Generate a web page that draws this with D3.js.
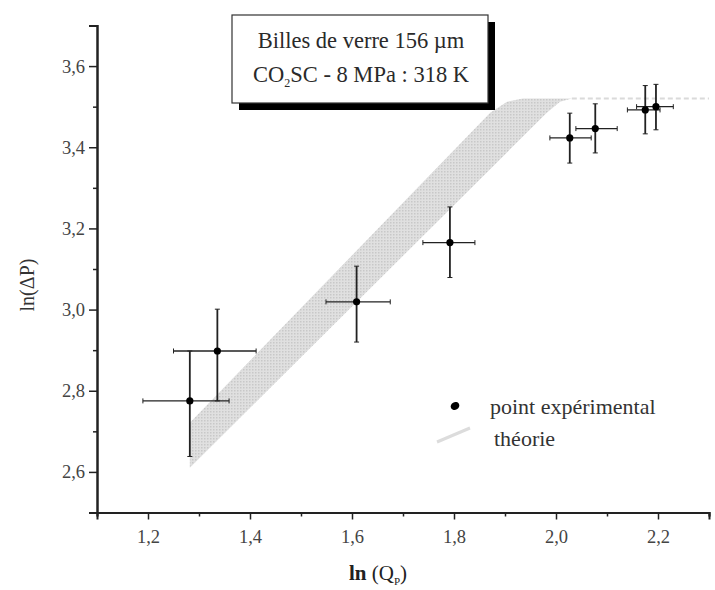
<!DOCTYPE html>
<html>
<head>
<meta charset="utf-8">
<script src="https://cdn.jsdelivr.net/npm/d3@7"></script>
<style>
  html, body { margin: 0; padding: 0; background: #fff; }
  svg { display: block; }
</style>
</head>
<body>
<svg id="chart" width="715" height="590"></svg>
<script>
// ---- data ----
const xVals   = [1.282, 1.336, 1.609, 1.792, 2.027, 2.077, 2.175, 2.196];
const yVals   = [2.775, 2.898, 3.019, 3.165, 3.423, 3.446, 3.492, 3.500];
const xErrLo  = [0.092, 0.086, 0.060, 0.053, 0.039, 0.038, 0.035, 0.038];
const xErrHi  = [0.077, 0.076, 0.066, 0.049, 0.042, 0.043, 0.029, 0.034];
const yErrHi  = [0.123, 0.103, 0.088, 0.088, 0.061, 0.061, 0.060, 0.055];
const yErrLo  = [0.137, 0.123, 0.099, 0.086, 0.062, 0.060, 0.059, 0.057];

// theory band: upper (left) boundary and lower (right) boundary
const bandUpperX = [1.282, 1.871, 1.904, 1.935];
const bandUpperY = [2.721, 3.485, 3.512, 3.520];
const bandLowerX = [1.282, 1.982, 2.008, 2.031];
const bandLowerY = [2.610, 3.485, 3.512, 3.520];
const plateauX = [2.031, 2.30];
const plateauY = [3.52, 3.52];

const xTicks = [1.2, 1.4, 1.6, 1.8, 2.0, 2.2];
const xMinor = [1.1, 1.3, 1.5, 1.7, 1.9, 2.1, 2.3];
const yTicks = [2.6, 2.8, 3.0, 3.2, 3.4, 3.6];
const yMinor = [2.5, 2.7, 2.9, 3.1, 3.3, 3.5, 3.7];

const titleLines = ["Billes de verre 156 µm", "CO|2|SC - 8 MPa : 318 K"];
const legendLabels = ["point expérimental", "théorie"];

// ---- drawing ----
const svg = d3.select("#chart");
const font = "'Liberation Serif', 'Times New Roman', Times, serif";
const ink = "#222";

const x = d3.scaleLinear().domain([1.1, 2.3]).range([97, 709]);
const y = d3.scaleLinear().domain([2.5, 3.7]).range([512.5, 25.5]);
const fmt = d => d3.format(".1f")(d).replace(".", ",");

// theory band
const upper = bandUpperX.map((v, i) => [x(v), y(bandUpperY[i])]);
const lower = bandLowerX.map((v, i) => [x(v), y(bandLowerY[i])]);
const poly = upper.concat(lower.slice().reverse());
const defs = svg.append("defs");
const pat = defs.append("pattern").attr("id", "stip").attr("width", 3).attr("height", 3)
  .attr("patternUnits", "userSpaceOnUse");
pat.append("rect").attr("width", 3).attr("height", 3).attr("fill", "#e0e0e0");
pat.append("rect").attr("width", 1.5).attr("height", 1.5).attr("fill", "#c8c8c8");
svg.append("path")
  .attr("d", d3.line()(poly) + "Z")
  .attr("fill", "url(#stip)")
  .attr("stroke", "none");
svg.append("path")
  .attr("d", d3.line()(plateauX.map((v, i) => [x(v), y(plateauY[i])])))
  .attr("stroke", "#dadada").attr("stroke-width", 2).attr("stroke-dasharray", "5,3")
  .attr("fill", "none");

// axes
const gx = svg.append("g").attr("transform", `translate(0,${y(2.5)})`)
  .call(d3.axisBottom(x).tickValues(xTicks).tickFormat(fmt).tickSizeOuter(0).tickSize(7).tickPadding(10));
const gxm = svg.append("g").attr("transform", `translate(0,${y(2.5)})`)
  .call(d3.axisBottom(x).tickValues(xMinor).tickFormat("").tickSizeOuter(0).tickSize(4));
const gy = svg.append("g").attr("transform", `translate(${x(1.1)},0)`)
  .call(d3.axisLeft(y).tickValues(yTicks).tickFormat(fmt).tickSizeOuter(0).tickSize(8).tickPadding(4));
const gym = svg.append("g").attr("transform", `translate(${x(1.1)},0)`)
  .call(d3.axisLeft(y).tickValues(yMinor).tickFormat("").tickSizeOuter(0).tickSize(4));
[gx, gxm, gy, gym].forEach(g => {
  g.select(".domain").attr("stroke", ink).attr("stroke-width", 2);
  g.selectAll(".tick line").attr("stroke", ink).attr("stroke-width", 1.5);
  g.selectAll("text").attr("font-family", font).attr("font-size", 18.5).attr("fill", "#444");
});

// error bars
const cap = 2.5;
const eb = svg.append("g").attr("stroke", ink).attr("stroke-width", 1.6).attr("fill", "none");
xVals.forEach((xv, i) => {
  const cx = x(xv), cy = y(yVals[i]);
  const x0 = x(xv - xErrLo[i]), x1 = x(xv + xErrHi[i]);
  const y0 = y(yVals[i] + yErrHi[i]), y1 = y(yVals[i] - yErrLo[i]);
  eb.append("line").attr("x1", x0).attr("x2", x1).attr("y1", cy).attr("y2", cy).attr("stroke-width", 1.3);
  eb.append("line").attr("x1", cx).attr("x2", cx).attr("y1", y0).attr("y2", y1).attr("stroke-width", 1.8);
  eb.append("line").attr("x1", x0).attr("x2", x0).attr("y1", cy - cap).attr("y2", cy + cap).attr("stroke-width", 1);
  eb.append("line").attr("x1", x1).attr("x2", x1).attr("y1", cy - cap).attr("y2", cy + cap).attr("stroke-width", 1);
  eb.append("line").attr("x1", cx - cap).attr("x2", cx + cap).attr("y1", y0).attr("y2", y0).attr("stroke-width", 1);
  eb.append("line").attr("x1", cx - cap).attr("x2", cx + cap).attr("y1", y1).attr("y2", y1).attr("stroke-width", 1);
});
svg.append("g").selectAll("circle").data(xVals).join("circle")
  .attr("cx", d => x(d)).attr("cy", (d, i) => y(yVals[i])).attr("r", 3.6).attr("fill", "#000");

// title box with shadow
const bx = 232, by = 15, bw = 256, bh = 88;
svg.append("rect").attr("x", bx + 7).attr("y", by + 7).attr("width", bw).attr("height", bh).attr("fill", "#000");
svg.append("rect").attr("x", bx).attr("y", by).attr("width", bw).attr("height", bh)
  .attr("fill", "#fff").attr("stroke", "#333").attr("stroke-width", 1.2);
svg.append("text").attr("x", bx + bw / 2 + 1).attr("y", 48).attr("text-anchor", "middle")
  .attr("font-family", font).attr("font-size", 22.5).attr("fill", "#2a2a2a").text(titleLines[0]);
const parts = titleLines[1].split("|");
const t2 = svg.append("text").attr("x", bx + bw / 2 + 1).attr("y", 82).attr("text-anchor", "middle")
  .attr("font-family", font).attr("font-size", 22.5).attr("fill", "#2a2a2a");
t2.append("tspan").text(parts[0]);
t2.append("tspan").attr("font-size", 12).attr("dy", 5).text(parts[1]);
t2.append("tspan").attr("dy", -5).text(parts[2]);

// legend
svg.append("ellipse").attr("cx", 455).attr("cy", 406).attr("rx", 4.5).attr("ry", 3.8)
  .attr("transform", "rotate(-30,455,406)").attr("fill", "#000");
svg.append("text").attr("x", 490).attr("y", 414).attr("font-family", font).attr("font-size", 22)
  .attr("fill", "#333").text(legendLabels[0]);
svg.append("line").attr("x1", 437).attr("y1", 442).attr("x2", 470).attr("y2", 428)
  .attr("stroke", "#dcdcdc").attr("stroke-width", 3);
svg.append("text").attr("x", 494).attr("y", 446).attr("font-family", font).attr("font-size", 22)
  .attr("fill", "#333").text(legendLabels[1]);

// axis titles
const xl = svg.append("text").attr("x", 378).attr("y", 580).attr("text-anchor", "middle")
  .attr("font-family", font).attr("font-size", 21).attr("fill", "#222");
xl.append("tspan").attr("font-weight", "bold").text("ln");
xl.append("tspan").text(" (Q");
xl.append("tspan").attr("font-size", 11).attr("dy", 5).text("P");
xl.append("tspan").attr("dy", -5).text(")");
svg.append("text").attr("transform", "translate(34,285) rotate(-90)").attr("text-anchor", "middle")
  .attr("font-family", font).attr("font-size", 20).attr("fill", "#333").text("ln(ΔP)");
</script>
</body>
</html>
